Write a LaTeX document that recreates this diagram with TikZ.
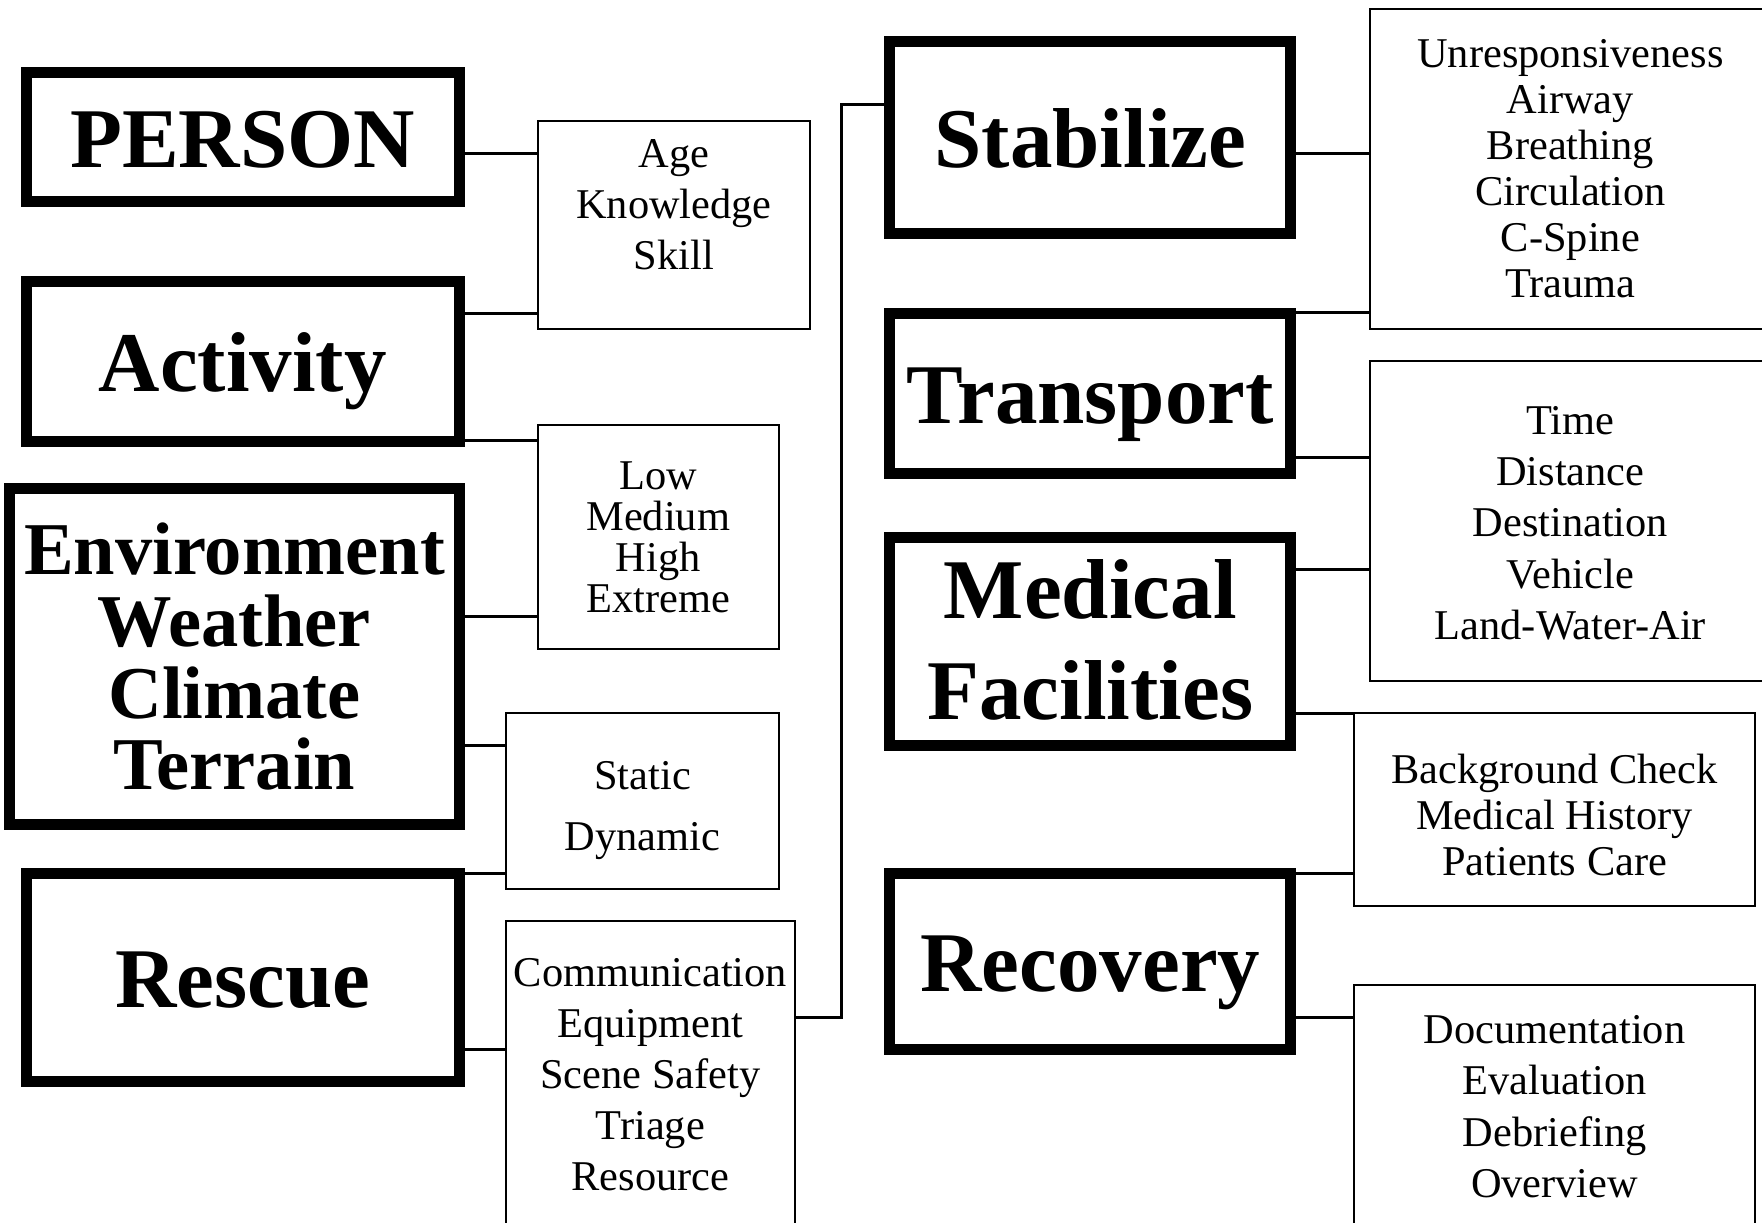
\documentclass[tikz,border=0pt]{standalone}
\usepackage{fontspec}
\setmainfont{Liberation Serif}
\tikzset{
  bigbox/.style={draw, line width=11pt, inner sep=0pt, align=center, font=\fontsize{85}{101}\selectfont\bfseries},
  oneline/.style={text height=60.4pt, text depth=0pt},
  listbox/.style={draw, line width=2pt, inner sep=0pt},
  items/.style={inner sep=0pt, anchor=north, align=center, font=\fontsize{42.4}{#1}\selectfont},
  link/.style={line width=3pt}
}
\begin{document}
\begin{tikzpicture}[x=1pt,y=-1pt]
\useasboundingbox (0,0) rectangle (1762,1223);
\clip (0,0) rectangle (1762,1223);
% main steps
\node[bigbox, oneline, minimum width=432.8, minimum height=128.6] (person) at (242.7,137) {PERSON};
\node[bigbox, oneline, minimum width=432.8, minimum height=160.2] (activity) at (242.7,361.2) {Activity};
\node[bigbox, minimum width=449.1, minimum height=336.2, font=\fontsize{74.5}{71.8}\selectfont\bfseries] (env) at (234.5,656.8) {Environment\\Weather\\Climate\\Terrain};
\node[bigbox, oneline, minimum width=432.8, minimum height=207.5] (rescue) at (242.7,977.5) {Rescue};
\node[bigbox, oneline, minimum width=400.7, minimum height=191.4] (stabilize) at (1090.3,137.6) {Stabilize};
\node[bigbox, oneline, minimum width=400.7, minimum height=159.1] (transport) at (1090.3,393.5) {Transport};
\node[bigbox, minimum width=400.7, minimum height=208.2, text depth=3pt] (medical) at (1090.3,641.4) {Medical\\Facilities};
\node[bigbox, oneline, minimum width=400.7, minimum height=175.7] (recovery) at (1090.3,961.6) {Recovery};
% lists
\node[listbox, minimum width=272.7, minimum height=208] (age) at (674,225.4) {};
\node[items=51] (agetxt) at (674,138.9) {Age\\Knowledge\\Skill};
\node[listbox, minimum width=241.4, minimum height=224.3] (low) at (658.3,537.2) {};
\node[items=41] (lowtxt) at (658.3,461.4) {Low\\Medium\\High\\Extreme};
\node[listbox, minimum width=272.8, minimum height=176] (static) at (642.6,801.2) {};
\node[items=61.6] (statictxt) at (642.6,761) {Static\\Dynamic};
\node[listbox, minimum width=288.4, minimum height=319] (comm) at (650.4,1080.5) {};
\node[items=51] (commtxt) at (650.4,958.2) {Communication\\Equipment\\Scene Safety\\Triage\\Resource};
\node[listbox, minimum width=400, minimum height=320.7] (unresp) at (1570.4,169) {};
\node[items=46] (unresptxt) at (1570.4,39) {Unresponsiveness\\Airway\\Breathing\\Circulation\\C-Spine\\Trauma};
\node[listbox, minimum width=400, minimum height=320.8] (time) at (1570.4,521) {};
\node[items=51.4] (timetxt) at (1570.4,405.9) {Time\\Distance\\Destination\\Vehicle\\Land-Water-Air};
\node[listbox, minimum width=401.1, minimum height=192.7] (bg) at (1554.6,809.6) {};
\node[items=46] (bgtxt) at (1554.6,754) {Background Check\\Medical History\\Patients Care};
\node[listbox, minimum width=401.1, minimum height=255.4] (doc) at (1554.6,1112.3) {};
\node[items=51.4] (doctxt) at (1554.6,1015) {Documentation\\Evaluation\\Debriefing\\Overview};
% connectors
\foreach \a/\b/\y in {person/age/153, activity/age/313.6, activity/low/440, env/low/616.7, env/static/745.4, rescue/static/873.3, rescue/comm/1049, stabilize/unresp/153, transport/unresp/312.4, transport/time/457.5, medical/time/569.4, medical/bg/713.2, recovery/bg/873.3, recovery/doc/1017.2}{
    \draw[link] (\a.east |- 0,\y)--(\b.west |- 0,\y);
}
\coordinate (bus) at (841.8,0);
\draw[link] (comm.east |- 0,1017.2)--(bus |- 0,1017.2)--(bus |- 0,104.8)--(stabilize.west |- 0,104.8);
\end{tikzpicture}
\end{document}
